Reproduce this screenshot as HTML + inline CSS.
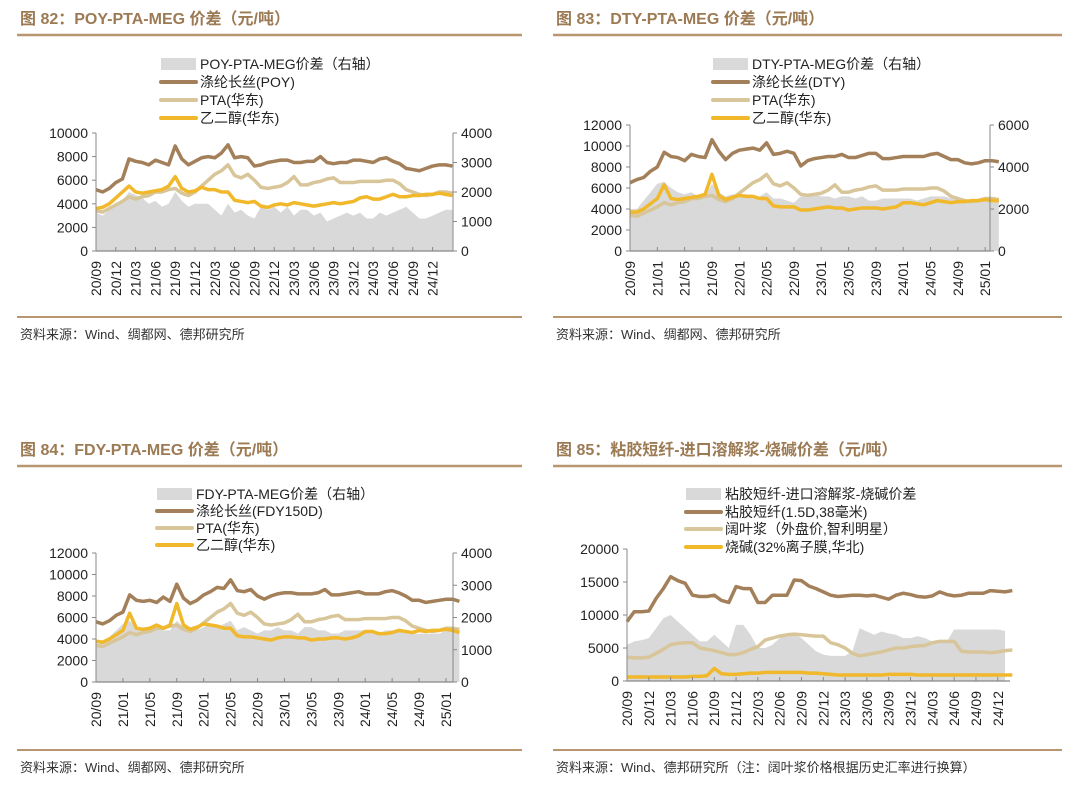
<!DOCTYPE html>
<html><head><meta charset="utf-8"><style>
body{margin:0;background:#fff;width:1080px;height:784px;overflow:hidden}
svg text{font-family:"Liberation Sans","Noto Sans CJK SC",sans-serif}
</style></head><body>
<svg id="root" width="1080" height="784" xmlns="http://www.w3.org/2000/svg"></svg>
<script>
// ---------- Panel 1: POY ----------
const p1Ticks=["20/09","20/12","21/03","21/06","21/09","21/12","22/03","22/06","22/09","22/12","23/03","23/06","23/09","23/12","24/03","24/06","24/09","24/12"];
const p1LeftTicks=[0,2000,4000,6000,8000,10000];
const p1RightTicks=[0,1000,2000,3000,4000];
const p1Spread=[1300,1200,1400,1600,1700,2000,1900,1800,1600,1700,1500,1600,2000,1700,1500,1600,1600,1600,1400,1200,1600,1300,1400,1200,1100,1500,1400,1500,1300,1500,1200,1400,1400,1200,1300,1000,1100,1200,1300,1200,1300,1100,1100,1300,1200,1300,1400,1500,1300,1100,1100,1200,1300,1400,1400];
const p1POY=[5200,5000,5300,5800,6100,7800,7600,7500,7300,7700,7500,7300,8900,7800,7300,7600,7900,8000,7900,8300,9000,7900,8000,7900,7200,7300,7500,7600,7700,7700,7500,7500,7600,7600,8000,7500,7400,7500,7500,7700,7700,7600,7500,7800,7900,7600,7400,7000,6900,6800,7000,7200,7300,7300,7200];
const p1PTA=[3400,3300,3600,3900,4200,4600,4400,4600,4700,5000,5000,5200,5300,4900,4700,5000,5500,6000,6500,6800,7300,6400,6200,6500,6000,5400,5300,5400,5500,5800,6300,5600,5600,5800,5900,6100,6200,5800,5800,5800,5900,5900,5900,5900,6000,6000,5700,5200,5000,4800,4700,4800,5000,5000,4900];
const p1MEG=[3600,3700,4000,4500,5000,5500,5000,4900,5000,5100,5200,5500,6300,5300,5000,5100,5400,5200,5200,5000,5000,4300,4200,4100,4200,3800,3700,3900,4000,3900,4100,4000,3900,3800,3900,4000,4100,4000,4100,4200,4500,4600,4400,4400,4600,4800,4600,4600,4700,4700,4800,4800,4900,4800,4700];
// ---------- Panel 2: DTY ----------
const p2Ticks=["20/09","21/01","21/05","21/09","22/01","22/05","22/09","23/01","23/05","23/09","24/01","24/05","24/09","25/01"];
const p2LeftTicks=[0,2000,4000,6000,8000,10000,12000];
const p2RightTicks=[0,2000,4000,6000];
const p2Spread=[2000,2000,2400,2800,3200,3300,3000,2800,2700,2800,2600,2600,3200,2800,2600,2700,2700,2700,2500,2600,2800,2500,2500,2400,2300,2600,2600,2700,2600,2600,2500,2600,2600,2500,2600,2400,2400,2500,2500,2500,2500,2500,2400,2500,2600,2600,2600,2500,2500,2400,2400,2500,2500,2500,2500];
const p2DTY=[6500,6800,7000,7600,8000,9400,9000,8900,8600,9200,9000,8900,10600,9500,8700,9300,9600,9700,9800,9600,10300,9200,9300,9500,9300,8100,8600,8800,8900,9000,9000,9200,8900,8900,9100,9300,9300,8800,8800,8900,9000,9000,9000,9000,9200,9300,9000,8700,8700,8400,8300,8400,8600,8600,8500];
const p2PTA=p1PTA.slice();
const p2MEG=[3700,3700,4000,4500,5000,6300,5000,4900,5000,5100,5200,5400,7300,5300,4900,5100,5300,5200,5200,5000,5000,4300,4200,4200,4200,3900,3900,4000,4100,4200,4100,4100,3900,4000,4100,4100,4100,4000,4100,4200,4600,4600,4500,4400,4600,4800,4700,4600,4700,4700,4800,4800,4900,4800,4800];
// ---------- Panel 3: FDY ----------
const p3Ticks=p2Ticks.slice();
const p3LeftTicks=[0,2000,4000,6000,8000,10000,12000];
const p3RightTicks=[0,1000,2000,3000,4000];
const p3Spread=[1200,1200,1400,1600,1800,1900,1700,1600,1600,1700,1600,1600,1900,1700,1600,1600,1700,1800,1700,1800,1900,1600,1700,1600,1500,1600,1600,1700,1600,1600,1500,1700,1700,1600,1600,1500,1500,1600,1600,1600,1600,1500,1500,1600,1600,1600,1600,1500,1500,1500,1500,1500,1600,1600,1500];
const p3FDY=[5600,5400,5700,6200,6500,8100,7600,7500,7600,7400,7900,7500,9100,7800,7300,7600,8100,8400,8800,8700,9500,8500,8400,8600,8000,7700,8000,8200,8300,8300,8200,8200,8200,8300,8600,8100,8100,8200,8300,8400,8200,8200,8200,8400,8500,8300,8000,7600,7600,7400,7500,7600,7700,7700,7500];
const p3PTA=p1PTA.slice();
const p3MEG=[3800,3700,4000,4400,4800,6400,5000,4900,5000,5300,5000,5300,7300,5300,4900,5100,5400,5300,5200,5000,5000,4300,4200,4200,4100,4000,3900,4100,4200,4200,4100,4100,3900,4000,4000,4100,4100,4000,4100,4300,4700,4700,4500,4500,4600,4800,4700,4600,4800,4700,4800,4800,4900,4800,4600];
// ---------- Panel 4: Viscose ----------
const p4Ticks=["20/09","20/12","21/03","21/06","21/09","21/12","22/03","22/06","22/09","22/12","23/03","23/06","23/09","23/12","24/03","24/06","24/09","24/12"];
const p4LeftTicks=[0,5000,10000,15000,20000];
const p4Spread=[5500,6000,6200,6500,8000,9500,10000,9000,8000,7000,6000,6000,7000,6000,5000,8500,8500,7000,5000,5000,5500,6500,7000,7200,6500,5500,4500,4000,3800,3800,3800,4500,8000,7500,7000,7500,7200,7000,6500,6500,6800,6500,6000,6000,6000,7800,7800,7800,7800,7800,7800,7800,7600];
const p4Viscose=[9000,10500,10500,10600,12500,14000,15800,15200,14800,13000,12800,12800,13000,12200,11900,14300,14000,14000,11900,11900,13000,13000,13000,15300,15200,14400,14000,13500,13000,12800,12900,13000,13000,12900,13000,12700,12400,13000,13300,13100,12800,12700,12900,13500,13100,12900,13000,13300,13300,13300,13700,13600,13500,13700];
const p4Pulp=[3600,3500,3500,3600,4200,4800,5500,5700,5800,5800,5000,4800,4600,4300,4000,4000,4300,4800,5200,6200,6500,6800,7000,7100,7000,6900,6800,6800,5800,5500,5000,4200,3800,4000,4200,4400,4700,5000,5000,5200,5300,5400,5800,6000,6000,6000,4500,4400,4400,4400,4300,4400,4600,4700];
const p4Soda=[600,600,600,600,600,600,600,600,600,700,700,800,1900,1100,1000,1000,1100,1200,1200,1300,1300,1300,1300,1300,1300,1200,1200,1100,1000,900,900,900,900,900,900,900,1000,1000,1000,1000,900,900,900,900,900,900,900,900,900,900,900,900,900,900];

const NS="http://www.w3.org/2000/svg";
const root=document.getElementById('root');
function mk(tag,attrs,parent,text){const e=document.createElementNS(NS,tag);for(const k in attrs)e.setAttribute(k,attrs[k]);if(text!==undefined)e.textContent=text;(parent||root).appendChild(e);return e;}
const BROWN="#a3805a",TAN="#d8c69a",GOLD="#f0b82a",GRAY="#d9d9d9",TITLE="#9c7a54";

function panel(c){
  const g=mk('g',{});
  
  
  const t=mk('text',{x:c.tx,y:c.ty+6,'font-size':16,'font-weight':'bold',fill:TITLE},g,c.title);
  
  
  mk('line',{x1:c.rx1,x2:c.rx2,y1:c.ty+17,y2:c.ty+17,stroke:'#b89670','stroke-width':2.5},g);
  mk('line',{x1:c.rx1,x2:c.rx2,y1:c.by,y2:c.by,stroke:'#b89670','stroke-width':2},g);
  const s=mk('text',{x:c.rx1+3,y:c.by+22,'font-size':13,fill:'#333'},g,c.source);
  
  
  const X=i=>c.x0+i*c.ppm;
  const YL=v=>c.y0-(v/c.lmax)*(c.y0-c.y1);
  const YR=v=>c.y0-(v/c.rmax)*(c.y0-c.y1);
  let pts=[X(0)+','+c.y0];
  c.area.forEach((v,i)=>pts.push(X(i)+','+(c.areaRight?YR(v):YL(v))));
  pts.push(X(c.area.length-1)+','+c.y0);
  const a=mk('polygon',{points:pts.join(' '),fill:GRAY},g);
  
  
  c.lines.forEach(L=>{
    const p=mk('polyline',{points:L.data.map((v,i)=>X(i)+','+YL(v)).join(' '),fill:'none',stroke:L.color,'stroke-width':3.5,'stroke-linejoin':'round'},g);
    
    
  });
  mk('line',{x1:c.x0,x2:c.x0,y1:c.y1,y2:c.y0,stroke:'#888','stroke-width':1},g);
  mk('line',{x1:c.x0,x2:c.xe,y1:c.y0,y2:c.y0,stroke:'#888','stroke-width':1.2},g);
  c.lticks.forEach(v=>{
    mk('line',{x1:c.x0-4,x2:c.x0,y1:YL(v),y2:YL(v),stroke:'#888'},g);
    const tt=mk('text',{x:c.x0-8,y:YL(v)+5,'font-size':14,'text-anchor':'end',fill:'#222'},g,String(v));
    
    
  });
  if(c.rticks){
    mk('line',{x1:c.xe,x2:c.xe,y1:c.y1,y2:c.y0,stroke:'#888'},g);
    c.rticks.forEach(v=>{
      mk('line',{x1:c.xe,x2:c.xe+4,y1:YR(v),y2:YR(v),stroke:'#888'},g);
      const tt=mk('text',{x:c.xe+8,y:YR(v)+5,'font-size':14,fill:'#222'},g,String(v));
      
      
    });
  }
  c.xticks.forEach((lab,k)=>{
    const x=X(k*c.step);
    mk('line',{x1:x,x2:x,y1:c.y0,y2:c.y0-4,stroke:'#888'},g);
    const tt=mk('text',{x:0,y:0,'font-size':14,'text-anchor':'end',fill:'#222',transform:`translate(${x+5},${c.y0+10}) rotate(-90)`},g,lab);
    
    
  });
  c.legend.forEach((L,k)=>{
    const y=c.ly[k];
    const lg=mk('g',{},g);
    
    
    if(L.area) mk('rect',{x:c.lx,y:y-6,width:35,height:12,fill:GRAY},lg);
    else mk('line',{x1:c.lx,x2:c.lx+35,y1:y,y2:y,stroke:L.color,'stroke-width':4,'stroke-linecap':'round'},lg);
    mk('text',{x:c.lx+39,y:y+5,'font-size':14,fill:'#222'},lg,L.label);
  });
}

panel({name:'poy-spread-chart',title:'图 82：POY-PTA-MEG 价差（元/吨）',tx:20,ty:18,rx1:17,rx2:522,by:317,source:'资料来源：Wind、绸都网、德邦研究所',
 x0:96,xe:453,ppm:6.6,y0:251,y1:133,lmax:10000,rmax:4000,area:p1Spread,areaRight:true,
 lines:[{id:'poy',data:p1POY,color:BROWN},{id:'pta',data:p1PTA,color:TAN},{id:'meg',data:p1MEG,color:GOLD}],
 lticks:p1LeftTicks,rticks:p1RightTicks,xticks:p1Ticks,step:3,lx:161,ly:[64,82,100,118],
 legend:[{area:true,label:'POY-PTA-MEG价差（右轴）'},{color:BROWN,label:'涤纶长丝(POY)'},{color:TAN,label:'PTA(华东)'},{color:GOLD,label:'乙二醇(华东)'}]});

panel({name:'dty-spread-chart',title:'图 83：DTY-PTA-MEG 价差（元/吨）',tx:556,ty:18,rx1:553,rx2:1062,by:317,source:'资料来源：Wind、绸都网、德邦研究所',
 x0:630,xe:990,ppm:6.83,y0:251,y1:125,lmax:12000,rmax:6000,area:p2Spread,areaRight:true,
 lines:[{id:'dty',data:p2DTY,color:BROWN},{id:'pta',data:p2PTA,color:TAN},{id:'meg',data:p2MEG,color:GOLD}],
 lticks:p2LeftTicks,rticks:p2RightTicks,xticks:p2Ticks,step:4,lx:713,ly:[64,82,100,118],
 legend:[{area:true,label:'DTY-PTA-MEG价差（右轴）'},{color:BROWN,label:'涤纶长丝(DTY)'},{color:TAN,label:'PTA(华东)'},{color:GOLD,label:'乙二醇(华东)'}]});

panel({name:'fdy-spread-chart',title:'图 84：FDY-PTA-MEG 价差（元/吨）',tx:20,ty:449,rx1:17,rx2:522,by:750,source:'资料来源：Wind、绸都网、德邦研究所',
 x0:96,xe:453,ppm:6.73,y0:682,y1:553,lmax:12000,rmax:4000,area:p3Spread,areaRight:true,
 lines:[{id:'fdy',data:p3FDY,color:BROWN},{id:'pta',data:p3PTA,color:TAN},{id:'meg',data:p3MEG,color:GOLD}],
 lticks:p3LeftTicks,rticks:p3RightTicks,xticks:p3Ticks,step:4,lx:157,ly:[494,511,528,545],
 legend:[{area:true,label:'FDY-PTA-MEG价差（右轴）'},{color:BROWN,label:'涤纶长丝(FDY150D)'},{color:TAN,label:'PTA(华东)'},{color:GOLD,label:'乙二醇(华东)'}]});

panel({name:'viscose-spread-chart',title:'图 85：粘胶短纤-进口溶解浆-烧碱价差（元/吨）',tx:556,ty:449,rx1:553,rx2:1062,by:750,source:'资料来源：Wind、德邦研究所（注：阔叶浆价格根据历史汇率进行换算）',
 x0:627,xe:1010,ppm:7.27,y0:681,y1:549,lmax:20000,rmax:20000,area:p4Spread,areaRight:false,
 lines:[{id:'viscose',data:p4Viscose,color:BROWN},{id:'pulp',data:p4Pulp,color:TAN},{id:'caustic-soda',data:p4Soda,color:GOLD}],
 lticks:p4LeftTicks,rticks:null,xticks:p4Ticks,step:3,lx:686,ly:[494,512,529,547],
 legend:[{area:true,label:'粘胶短纤-进口溶解浆-烧碱价差'},{color:BROWN,label:'粘胶短纤(1.5D,38毫米)'},{color:TAN,label:'阔叶浆（外盘价,智利明星）'},{color:GOLD,label:'烧碱(32%离子膜,华北)'}]});
</script>
</body></html>
